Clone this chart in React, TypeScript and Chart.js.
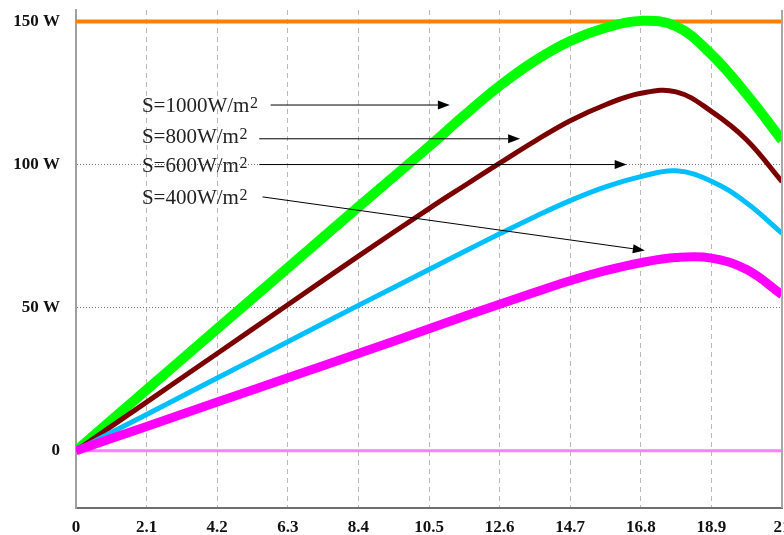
import React, { useEffect, useRef } from 'react';
import { Chart, registerables } from 'chart.js';

Chart.register(...registerables);

// Module voltage (V) and output power (W) at four irradiance levels
const voltage = [0, 2.1, 4.2, 6.3, 8.4, 10.5, 11.55, 12.6, 13.65, 14.7, 15.75, 16.8, 17.85, 18.9, 19.95, 21];
const power1000 = [0, 21.3, 42.6, 63.9, 85.2, 106.3, 117.2, 127.5, 136.3, 143.2, 147.8, 150.2, 148.3, 138.5, 124.5, 108.5];
const power800 = [0, 17, 34, 51, 68, 84.6, 92.6, 100.5, 108.2, 115.3, 120.9, 124.9, 125.4, 118.6, 108.6, 94];
const power600 = [0, 12.7, 25.4, 38.1, 50.8, 63.3, 69.6, 75.8, 81.8, 87.4, 92.2, 95.8, 97.8, 94.2, 86.6, 76];
const power400 = [0, 8.5, 17, 25.5, 34, 42.6, 47, 51.2, 55.4, 59.4, 62.9, 65.7, 67.5, 67.3, 63.3, 54.5];

// Horizontal reference levels
const ratedPower = 150;
const zeroPower = 0;

const xTicks = [0, 2.1, 4.2, 6.3, 8.4, 10.5, 12.6, 14.7, 16.8, 18.9, 21];
const xTickLabels = ['0', '2.1', '4.2', '6.3', '8.4', '10.5', '12.6', '14.7', '16.8', '18.9', '21'];
const yTicks = [0, 50, 100, 150];
const yTickLabels = ['0', '50 W', '100 W', '150 W'];

// Irradiance callouts: label anchor and arrow, in data units (V, W)
const calloutTexts = ['S=1000W/m', 'S=800W/m', 'S=600W/m', 'S=400W/m'];
const calloutLabelX = 1.96;
const calloutLabelY = [118.4, 107.4, 97.3, 86.3];
const arrowFromX = [5.79, 5.45, 5.45, 5.55];
const arrowFromY = [120.8, 109.0, 100.0, 88.7];
const arrowToX = [11.12, 13.21, 16.38, 16.92];
const arrowToY = [120.8, 109.0, 100.0, 70.0];

const SERIF = '"Liberation Serif", "Times New Roman", serif';

const toPoints = (ys: number[]) => voltage.map((v, i) => ({ x: v, y: ys[i] }));
const levelLine = (p: number) => [
  { x: xTicks[0], y: p },
  { x: xTicks[xTicks.length - 1], y: p },
];

const framePlugin = {
  id: 'rightFrame',
  afterDatasetsDraw(chart: any) {
    const { ctx, chartArea } = chart;
    ctx.save();
    ctx.strokeStyle = '#a8a8a8';
    ctx.lineWidth = 2;
    ctx.beginPath();
    ctx.moveTo(chartArea.right, chartArea.top);
    ctx.lineTo(chartArea.right, chartArea.bottom);
    ctx.stroke();
    ctx.restore();
  },
};

const calloutPlugin = {
  id: 'callouts',
  afterDatasetsDraw(chart: any) {
    const { ctx } = chart;
    const xs = chart.scales.x;
    const ys = chart.scales.y;
    ctx.save();
    calloutTexts.forEach((t, i) => {
      const lx = xs.getPixelForValue(calloutLabelX);
      const ly = ys.getPixelForValue(calloutLabelY[i]);
      ctx.fillStyle = '#222';
      ctx.textAlign = 'left';
      ctx.textBaseline = 'alphabetic';
      ctx.font = `21px ${SERIF}`;
      ctx.fillText(t, lx, ly);
      const w = ctx.measureText(t).width;
      ctx.font = `16px ${SERIF}`;
      ctx.fillText('2', lx + w + 0.5, ly - 4);

      const x0 = xs.getPixelForValue(arrowFromX[i]);
      const y0 = ys.getPixelForValue(arrowFromY[i]);
      const x1 = xs.getPixelForValue(arrowToX[i]);
      const y1 = ys.getPixelForValue(arrowToY[i]);
      const ang = Math.atan2(y1 - y0, x1 - x0);
      const head = 12;
      const half = 4.5;
      const c = Math.cos(ang);
      const s = Math.sin(ang);
      const bx = x1 - head * c;
      const by = y1 - head * s;
      ctx.strokeStyle = '#000';
      ctx.fillStyle = '#000';
      ctx.lineWidth = 1;
      ctx.beginPath();
      ctx.moveTo(x0, y0);
      ctx.lineTo(bx, by);
      ctx.stroke();
      ctx.beginPath();
      ctx.moveTo(x1, y1);
      ctx.lineTo(bx - half * s, by + half * c);
      ctx.lineTo(bx + half * s, by - half * c);
      ctx.closePath();
      ctx.fill();
    });
    ctx.restore();
  },
};

export default function App() {
  const canvasRef = useRef<HTMLCanvasElement | null>(null);

  useEffect(() => {
    if (!canvasRef.current) return;
    const curve = (data: number[], color: string, width: number) => ({
      data: toPoints(data),
      borderColor: color,
      backgroundColor: color,
      borderWidth: width,
      pointRadius: 0,
      tension: 0.4,
      borderJoinStyle: 'round' as const,
      fill: false,
    });
    const chart = new Chart(canvasRef.current, {
      type: 'line',
      data: {
        datasets: [
          curve(power400, '#ff00ff', 9),
          curve(power600, '#00bfff', 5),
          curve(power800, '#7a0000', 5),
          curve(power1000, '#00ff00', 10),
          { ...curve([], '#ff8000', 4), tension: 0, data: levelLine(ratedPower) },
          { ...curve([], '#ff80ff', 3), tension: 0, data: levelLine(zeroPower) },
        ],
      },
      options: {
        responsive: false,
        maintainAspectRatio: false,
        animation: false,
        layout: { padding: { left: 0, right: 10, top: 10, bottom: 0 } },
        plugins: {
          legend: { display: false },
          tooltip: { enabled: false },
        },
        scales: {
          x: {
            type: 'linear',
            min: 0,
            max: 21,
            afterBuildTicks: (scale: any) => {
              scale.ticks = xTicks.map((v) => ({ value: v }));
            },
            afterFit: (scale: any) => {
              scale.height = 27;
              scale.paddingLeft = 0;
              scale.paddingRight = 0;
            },
            ticks: {
              autoSkip: false,
              maxRotation: 0,
              padding: 9,
              color: '#111',
              font: { family: SERIF, size: 17, weight: 'bold' },
              callback: (_v: any, i: number) => xTickLabels[i],
            },
            grid: {
              drawTicks: false,
              lineWidth: 1,
              color: (ctx: any) =>
                ctx.index === 0 || ctx.index === xTicks.length - 1 ? 'rgba(0,0,0,0)' : '#b8b8b8',
            },
            border: { display: true, color: '#6e6e6e', width: 2, dash: [5, 4] },
          },
          y: {
            type: 'linear',
            min: -20,
            max: 154,
            afterBuildTicks: (scale: any) => {
              scale.ticks = yTicks.map((v) => ({ value: v }));
            },
            afterFit: (scale: any) => {
              scale.width = 76;
              scale.paddingTop = 0;
              scale.paddingBottom = 0;
            },
            ticks: {
              padding: 16,
              color: '#111',
              font: { family: SERIF, size: 17, weight: 'bold' },
              callback: (_v: any, i: number) => yTickLabels[i],
            },
            grid: {
              drawTicks: false,
              lineWidth: 1,
              color: (ctx: any) =>
                ctx.tick && (ctx.tick.value === 50 || ctx.tick.value === 100) ? '#7a7a7a' : 'rgba(0,0,0,0)',
            },
            border: { display: true, color: '#a0a0a0', width: 2, dash: [1, 2] },
          },
        },
      },
      plugins: [framePlugin, calloutPlugin],
    });
    return () => chart.destroy();
  }, []);

  return (
    <div
      style={{
        position: 'fixed',
        left: 0,
        top: 0,
        width: 784,
        height: 535,
        overflow: 'hidden',
        background: '#fff',
      }}
    >
      <canvas ref={canvasRef} width={792} height={535} style={{ width: 792, height: 535, display: 'block' }} />
    </div>
  );
}
